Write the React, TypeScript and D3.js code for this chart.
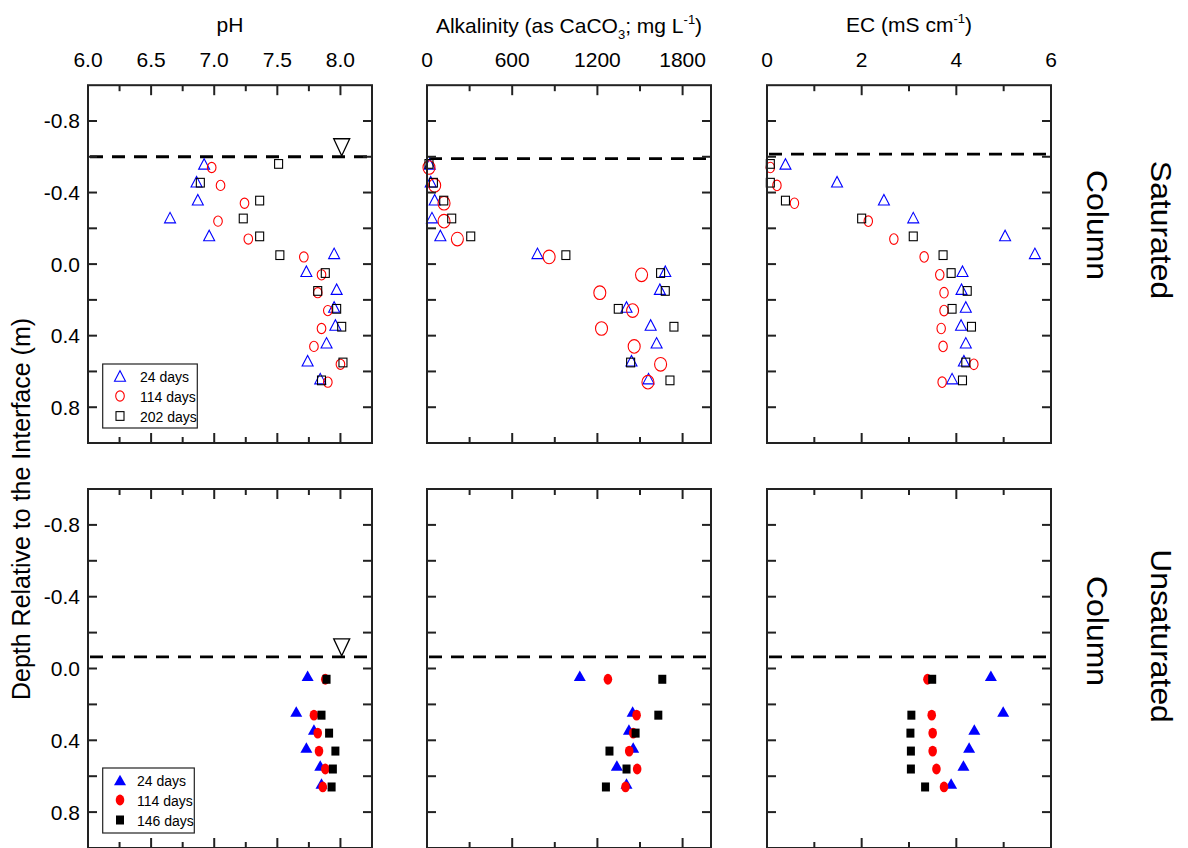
import React, { useEffect } from "react";
import * as d3 from "d3";

// ---------- axis ticks ----------
const phTicks = [6.0, 6.5, 7.0, 7.5, 8.0];
const phMinor = [6.25, 6.75, 7.25, 7.75];
const alkTicks = [0, 600, 1200, 1800];
const alkMinor = [300, 900, 1500];
const ecTicks = [0, 2, 4, 6];
const ecMinor = [1, 3, 5];
const depthTicks = [-0.8, -0.6, -0.4, -0.2, 0.0, 0.2, 0.4, 0.6, 0.8];
const depthLabels = [-0.8, -0.4, 0.0, 0.4, 0.8];

// ---------- saturated column (open symbols) ----------
const satDepth24 = [-0.56, -0.46, -0.36, -0.26, -0.16, -0.06, 0.04, 0.14, 0.24, 0.34, 0.44, 0.54, 0.64];
const satDepth114 = [-0.54, -0.44, -0.34, -0.24, -0.14, -0.04, 0.06, 0.16, 0.26, 0.36, 0.46, 0.56, 0.66];
const satDepth202 = [-0.56, -0.455, -0.355, -0.255, -0.155, -0.05, 0.05, 0.15, 0.25, 0.35, 0.55, 0.65];

const satPH24 = [6.92, 6.86, 6.87, 6.65, 6.96, 7.95, 7.73, 7.97, 7.95, 7.96, 7.89, 7.74, 7.84];
const satPH114 = [6.98, 7.05, 7.24, 7.03, 7.27, 7.71, 7.85, 7.82, 7.9, 7.85, 7.79, 8.0, 7.9];
const satPH202 = [7.51, 6.89, 7.36, 7.23, 7.36, 7.52, 7.88, 7.82, 7.97, 8.01, 8.02, 7.85];

const satAlk24 = [19, 26, 54, 35, 94, 778, 1678, 1640, 1405, 1575, 1617, 1440, 1560];
const satAlk114 = [14, 54, 120, 120, 214, 860, 1511, 1217, 1448, 1229, 1459, 1645, 1556];
const satAlk202 = [14, 45, 118, 174, 308, 978, 1645, 1678, 1347, 1739, 1434, 1711];

const satEC24 = [0.39, 1.48, 2.47, 3.09, 5.03, 5.66, 4.13, 4.11, 4.2, 4.1, 4.2, 4.16, 3.91];
const satEC114 = [0.07, 0.21, 0.58, 2.14, 2.68, 3.32, 3.65, 3.74, 3.74, 3.68, 3.72, 4.37, 3.7];
const satEC202 = [0.07, 0.07, 0.39, 2.0, 3.09, 3.72, 3.89, 4.23, 3.91, 4.32, 4.2, 4.13];

// ---------- unsaturated column (filled symbols) ----------
const unsatDepth24 = [0.04, 0.24, 0.34, 0.44, 0.54, 0.64];
const unsatDepth114 = [0.06, 0.26, 0.36, 0.46, 0.56, 0.66];
const unsatDepth146 = [0.06, 0.26, 0.36, 0.46, 0.56, 0.66];

const unsatPH24 = [7.74, 7.65, 7.79, 7.73, 7.84, 7.85];
const unsatPH114 = [7.88, 7.79, 7.82, 7.83, 7.88, 7.86];
const unsatPH146 = [7.89, 7.85, 7.91, 7.96, 7.94, 7.93];

const unsatAlk24 = [1076, 1448, 1422, 1452, 1337, 1405];
const unsatAlk114 = [1274, 1476, 1452, 1424, 1480, 1398];
const unsatAlk146 = [1657, 1629, 1469, 1285, 1405, 1260];

const unsatEC24 = [4.73, 4.99, 4.38, 4.27, 4.15, 3.89];
const unsatEC114 = [3.39, 3.48, 3.5, 3.5, 3.58, 3.74];
const unsatEC146 = [3.49, 3.05, 3.03, 3.04, 3.04, 3.34];

// water table (dashed line) depth per panel, and marker position
const satWaterTable = [-0.6, -0.59, -0.615];
const unsatWaterTable = [-0.065, -0.065, -0.065];
const waterMarkerPH = 8.01;

const satLegend = ["24 days", "114 days", "202 days"];
const unsatLegend = ["24 days", "114 days", "146 days"];

const FONT = "'Liberation Sans', Arial, Helvetica, sans-serif";
const BLUE = "#0000ff";
const RED = "#ff0000";
const BLACK = "#000000";

type Shape = "tri" | "circ" | "sq";

function Marker({ shape, x, y, filled, rx = 4.3, ry = 5.2 }: any) {
  const color = shape === "tri" ? BLUE : shape === "circ" ? RED : BLACK;
  const fill = filled ? color : "none";
  const sw = filled ? 0 : 1.1;
  if (shape === "tri") {
    const w = filled ? 12 : 11;
    const h = 10.5;
    const p = `M${x - w / 2},${y + h / 2}L${x + w / 2},${y + h / 2}L${x},${y - h / 2}Z`;
    return <path d={p} fill={fill} stroke={color} strokeWidth={sw} />;
  }
  if (shape === "circ") {
    return <ellipse cx={x} cy={y} rx={rx} ry={ry} fill={fill} stroke={color} strokeWidth={sw} />;
  }
  const w = 8;
  const h = filled ? 9 : 8.7;
  return <rect x={x - w / 2} y={y - h / 2} width={w} height={h} fill={fill} stroke={color} strokeWidth={sw} />;
}

const cols = [
  { key: "ph", range: [88, 372], domain: [6, 8.25], major: phTicks, minor: phMinor, fmt: (v: number) => v.toFixed(1), circ: [4.3, 5.1] },
  { key: "alk", range: [427, 711], domain: [0, 2000], major: alkTicks, minor: alkMinor, fmt: (v: number) => String(v), circ: [6, 6.8] },
  { key: "ec", range: [767, 1051], domain: [0, 6], major: ecTicks, minor: ecMinor, fmt: (v: number) => String(v), circ: [4.2, 5.3] },
];

const rows = [
  {
    key: "sat",
    range: [85.2, 443],
    filled: false,
    wt: satWaterTable,
    legend: satLegend,
    series: [
      [
        { shape: "tri", v: satPH24, d: satDepth24 },
        { shape: "circ", v: satPH114, d: satDepth114 },
        { shape: "sq", v: satPH202, d: satDepth202 },
      ],
      [
        { shape: "tri", v: satAlk24, d: satDepth24 },
        { shape: "circ", v: satAlk114, d: satDepth114 },
        { shape: "sq", v: satAlk202, d: satDepth202 },
      ],
      [
        { shape: "tri", v: satEC24, d: satDepth24 },
        { shape: "circ", v: satEC114, d: satDepth114 },
        { shape: "sq", v: satEC202, d: satDepth202 },
      ],
    ],
  },
  {
    key: "unsat",
    range: [489, 848],
    filled: true,
    wt: unsatWaterTable,
    legend: unsatLegend,
    series: [
      [
        { shape: "tri", v: unsatPH24, d: unsatDepth24 },
        { shape: "circ", v: unsatPH114, d: unsatDepth114 },
        { shape: "sq", v: unsatPH146, d: unsatDepth146 },
      ],
      [
        { shape: "tri", v: unsatAlk24, d: unsatDepth24 },
        { shape: "circ", v: unsatAlk114, d: unsatDepth114 },
        { shape: "sq", v: unsatAlk146, d: unsatDepth146 },
      ],
      [
        { shape: "tri", v: unsatEC24, d: unsatDepth24 },
        { shape: "circ", v: unsatEC114, d: unsatDepth114 },
        { shape: "sq", v: unsatEC146, d: unsatDepth146 },
      ],
    ],
  },
];

function fmtDepth(v: number) {
  return (Math.abs(v) < 1e-9 ? 0 : v).toFixed(1);
}

export default function App() {
  useEffect(() => {
    document.body.style.margin = "0";
    document.body.style.overflow = "hidden";
  }, []);

  const panels: any[] = [];
  rows.forEach((row, ri) => {
    const y = d3.scaleLinear().domain([-1, 1]).range(row.range as [number, number]);
    cols.forEach((col, ci) => {
      const x = d3.scaleLinear().domain(col.domain as [number, number]).range(col.range as [number, number]);
      const [x0, x1] = col.range;
      const [y0, y1] = row.range;
      const els: any[] = [];
      const wy = y(row.wt[ci]);
      els.push(
        <line key="wt" x1={x0} x2={x1 + 3} y1={wy} y2={wy} stroke="#000" strokeWidth={2.8} strokeDasharray="13 9" strokeDashoffset={-2} />
      );
      if (col.key === "ph") {
        const mx = x(waterMarkerPH);
        els.push(
          <path key="wtm" d={`M${mx - 8},${wy - 18}L${mx + 8},${wy - 18}L${mx},${wy - 1}Z`} fill="none" stroke="#000" strokeWidth={1.3} />
        );
      }
      row.series[ci].forEach((s: any, si: number) => {
        s.v.forEach((val: number, i: number) => {
          els.push(
            <Marker
              key={`p${si}-${i}`}
              shape={s.shape}
              x={x(val)}
              y={y(s.d[i])}
              filled={row.filled}
              rx={row.filled ? 4.3 : col.circ[0]}
              ry={row.filled ? 5.4 : col.circ[1]}
            />
          );
        });
      });
      col.major.forEach((t: number, i: number) => {
        els.push(<line key={`mt${i}`} x1={x(t)} x2={x(t)} y1={y0} y2={y0 + 10} stroke="#222" strokeWidth={2} />);
        els.push(<line key={`mb${i}`} x1={x(t)} x2={x(t)} y1={y1} y2={y1 - 10} stroke="#222" strokeWidth={2} />);
      });
      col.minor.forEach((t: number, i: number) => {
        els.push(<line key={`nt${i}`} x1={x(t)} x2={x(t)} y1={y0} y2={y0 + 6} stroke="#222" strokeWidth={2} />);
        els.push(<line key={`nb${i}`} x1={x(t)} x2={x(t)} y1={y1} y2={y1 - 6} stroke="#222" strokeWidth={2} />);
      });
      depthTicks.forEach((t, i) => {
        els.push(<line key={`yl${i}`} x1={x0} x2={x0 + 9} y1={y(t)} y2={y(t)} stroke="#222" strokeWidth={2} />);
        els.push(<line key={`yr${i}`} x1={x1} x2={x1 - 9} y1={y(t)} y2={y(t)} stroke="#222" strokeWidth={2} />);
      });
      els.push(<rect key="frame" x={x0} y={y0} width={x1 - x0} height={y1 - y0} fill="none" stroke="#222" strokeWidth={2} />);
      if (ri === 0) {
        col.major.forEach((t: number, i: number) => {
          els.push(
            <text key={`xl${i}`} x={x(t)} y={67} fontSize={21} textAnchor="middle" fill="#000">
              {col.fmt(t)}
            </text>
          );
        });
      }
      if (ci === 0) {
        depthLabels.forEach((t, i) => {
          els.push(
            <text key={`ylab${i}`} x={80} y={y(t) + 7.5} fontSize={21} textAnchor="end" fill="#000">
              {fmtDepth(t)}
            </text>
          );
        });
      }
      if (ci === 0) {
        const lx = 102.7;
        const ly = ri === 0 ? 364 : 768;
        const lw = ri === 0 ? 94.6 : 91.6;
        const lh = ri === 0 ? 64 : 65;
        const tx = ri === 0 ? 140 : 137;
        const shapes: Shape[] = ["tri", "circ", "sq"];
        els.push(<rect key="lg" x={lx} y={ly} width={lw} height={lh} fill="#fff" stroke="#222" strokeWidth={1.2} />);
        shapes.forEach((sh, i) => {
          const cy = ly + 12 + i * 20;
          els.push(<Marker key={`lm${i}`} shape={sh} x={120} y={cy} filled={row.filled} rx={4.3} ry={row.filled ? 5.4 : 5.1} />);
          els.push(
            <text key={`lt${i}`} x={tx} y={cy + 5.5} fontSize={14} fill="#000">
              {row.legend[i]}
            </text>
          );
        });
      }
      panels.push(<g key={`${row.key}-${col.key}`}>{els}</g>);
    });
  });

  return (
    <svg
      width={1188}
      height={848}
      style={{ display: "block", position: "absolute", left: 0, top: 0, background: "#fff" }}
      fontFamily={FONT}
    >
      <rect x={0} y={0} width={1188} height={848} fill="#fff" />
      <text x={230} y={32} fontSize={21} textAnchor="middle">pH</text>
      <text x={569} y={33} fontSize={21} textAnchor="middle">
        Alkalinity (as CaCO<tspan dy={6} fontSize={13}>3</tspan>
        <tspan dy={-6}>; mg L</tspan>
        <tspan dy={-9} fontSize={13}>-1</tspan>
        <tspan dy={9}>)</tspan>
      </text>
      <text x={909} y={32} fontSize={21} textAnchor="middle">
        EC (mS cm<tspan dy={-9} fontSize={13}>-1</tspan>
        <tspan dy={9}>)</tspan>
      </text>
      <text transform="translate(30,509) rotate(-90)" fontSize={25} textAnchor="middle">
        Depth Relative to the Interface (m)
      </text>
      <text transform="translate(1151,230) rotate(90) scale(1.1,1)" fontSize={29} textAnchor="middle">Saturated</text>
      <text transform="translate(1087,225) rotate(90) scale(1.1,1)" fontSize={29} textAnchor="middle">Column</text>
      <text transform="translate(1151,636) rotate(90) scale(1.1,1)" fontSize={29} textAnchor="middle">Unsaturated</text>
      <text transform="translate(1087,631) rotate(90) scale(1.1,1)" fontSize={29} textAnchor="middle">Column</text>
      {panels}
    </svg>
  );
}
